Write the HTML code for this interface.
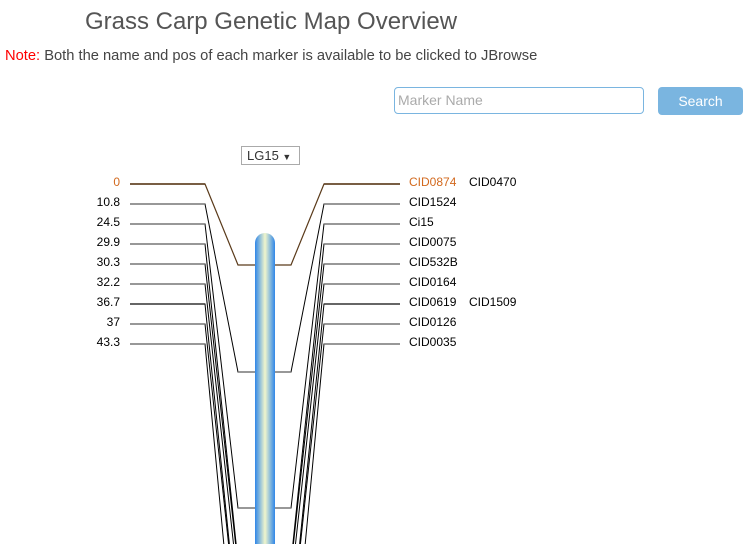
<!DOCTYPE html>
<html style="overflow:hidden;width:751px;height:544px"><head><meta charset="utf-8"><style>
body{margin:0;width:751px;height:544px;overflow:hidden;background:#fff;font-family:"Liberation Sans",Arial,sans-serif;position:relative}
.t{position:absolute;left:0;top:8px;width:542px;text-align:center;font-size:24px;color:#555}
.n{position:absolute;left:5px;top:48px;font-size:14.7px;color:#444}
.n span{color:#f00}
.in{position:absolute;left:394px;top:87px;height:27px;border:1px solid #7ab5e0;border-radius:4px;box-sizing:border-box;width:250px;font-size:14px;color:#aaa;padding:5px 3px;line-height:15px}
.bt{position:absolute;left:658px;top:87px;width:85px;height:28px;background:#7ab5e0;border-radius:4px;color:#fff;font-size:14px;text-align:center;line-height:28px}
.sel{position:absolute;left:241px;top:146px;width:59px;height:19px;border:1px solid #aaa;box-sizing:border-box;font-size:13px;color:#333;line-height:17px;padding-left:5px}
svg{position:absolute;left:0;top:0}
</style></head><body>
<div class="t">Grass Carp Genetic Map Overview</div>
<div class="n"><span>Note:</span> Both the name and pos of each marker is available to be clicked to JBrowse</div>
<div class="in">Marker Name</div>
<div class="bt">Search</div>
<div class="sel">LG15 <span style="font-size:9px">▼</span></div>
<svg width="751" height="544" viewBox="0 0 751 544" xmlns="http://www.w3.org/2000/svg" font-family="Liberation Sans, Arial, sans-serif" font-size="12" style="overflow:hidden">
<defs><linearGradient id="g" x1="0" x2="1"><stop offset="0" stop-color="#2f86e8"/><stop offset="0.5" stop-color="#f0f6cc"/><stop offset="1" stop-color="#2f86e8"/></linearGradient></defs>
<g fill="none" stroke-width="1.2">
<path d="M130 184H205L238 265H255M275 265H291L324 184H400" stroke="#5a3a1a"/>
<path d="M130 204H205L238 372H255M275 372H291L324 204H400" stroke="#000" stroke-width="1"/>
<path d="M130 224H205L238 508H255M275 508H291L324 224H400" stroke="#000" stroke-width="1"/>
<path d="M130 244H205L238 562M291 562L324 244H400" stroke="#000" stroke-width="1"/>
<path d="M130 264H205L238 566M291 566L324 264H400" stroke="#000" stroke-width="1"/>
<path d="M130 284H205L238 585M291 585L324 284H400" stroke="#000" stroke-width="1"/>
<path d="M130 304H205L238 629M291 629L324 304H400" stroke="#000" stroke-width="1"/>
<path d="M130 324H205L238 632M291 632L324 324H400" stroke="#000" stroke-width="1"/>
<path d="M130 344H205L238 695M291 695L324 344H400" stroke="#000" stroke-width="1"/>
</g>
<g stroke="#777" stroke-width="1.5">
<path d="M130 204H205M130 224H205M130 244H205M130 264H205M130 284H205M130 324H205M130 344H205M324 204H400M324 224H400M324 244H400M324 264H400M324 284H400M324 324H400M324 344H400M238 372H255M275 372H291M238 508H255M275 508H291"/>
<path d="M130 304H205M324 304H400" stroke="#333"/>
<path d="M130 184H205M324 184H400" stroke="#5a3a1a"/>
</g>
<path d="M255 243a10 10 0 0 1 20 0V544H255Z" fill="url(#g)"/>
<g text-anchor="end" fill="#000">
<text x="120" y="186" fill="#d2691e">0</text><text x="120" y="206">10.8</text><text x="120" y="226">24.5</text><text x="120" y="246">29.9</text><text x="120" y="266">30.3</text><text x="120" y="286">32.2</text><text x="120" y="306">36.7</text><text x="120" y="326">37</text><text x="120" y="346">43.3</text>
</g>
<g fill="#000">
<text x="409" y="186" fill="#d2691e">CID0874</text><text x="469" y="186">CID0470</text>
<text x="409" y="206">CID1524</text><text x="409" y="226">Ci15</text><text x="409" y="246">CID0075</text><text x="409" y="266">CID532B</text><text x="409" y="286">CID0164</text>
<text x="409" y="306">CID0619</text><text x="469" y="306">CID1509</text>
<text x="409" y="326">CID0126</text><text x="409" y="346">CID0035</text>
</g>
</svg>
</body></html>
